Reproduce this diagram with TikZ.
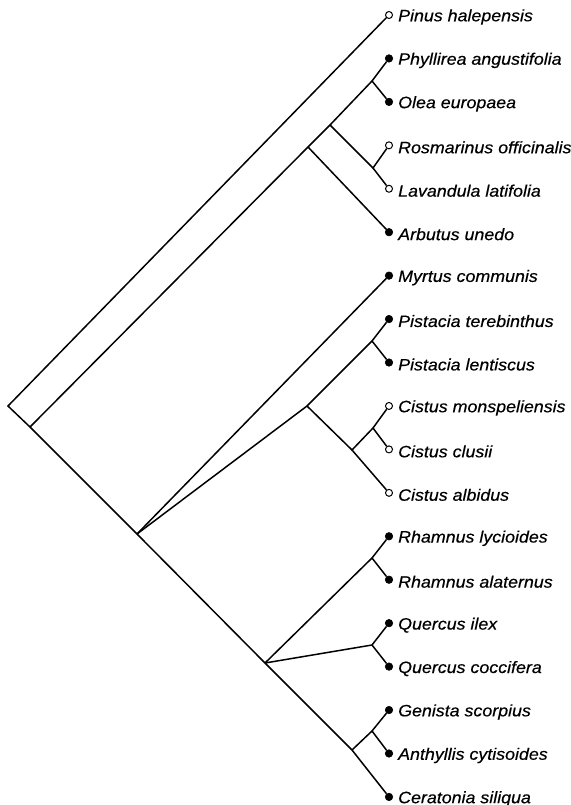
\documentclass[tikz,border=0pt]{standalone}
\usepackage{fontspec}
\setmainfont{Liberation Sans}[FakeStretch=1.08,FakeBold=0.4]
\begin{document}
\begin{tikzpicture}[x=1pt,y=-1pt,
  edge/.style={line width=1.5pt},
  full/.style={circle,fill=black,draw=black,line width=0.6pt,minimum size=7.5pt,inner sep=0pt},
  open/.style={circle,fill=white,draw=black,line width=1pt,minimum size=7pt,inner sep=0pt},
  lab/.style={anchor=west,inner sep=0pt,font=\fontsize{16.5}{18}\selectfont\itshape}]
\useasboundingbox (0,0) rectangle (570,805);
% leaves
\foreach \n/\i/\s/\t in {
  pin/0/open/Pinus halepensis,
  phy/1/full/Phyllirea angustifolia,
  ole/2/full/Olea europaea,
  ros/3/open/Rosmarinus officinalis,
  lav/4/open/Lavandula latifolia,
  arb/5/full/Arbutus unedo,
  myr/6/full/Myrtus communis,
  pte/7/full/Pistacia terebinthus,
  ple/8/full/Pistacia lentiscus,
  cmo/9/open/Cistus monspeliensis,
  ccl/10/open/Cistus clusii,
  cal/11/open/Cistus albidus,
  rly/12/full/Rhamnus lycioides,
  ral/13/full/Rhamnus alaternus,
  qil/14/full/Quercus ilex,
  qco/15/full/Quercus coccifera,
  gen/16/full/Genista scorpius,
  ant/17/full/Anthyllis cytisoides,
  cer/18/full/Ceratonia siliqua}{
  \node[\s] (\n) at (389,{15+43.44*\i}) {};
  \node[lab] (\n-t) at (398,{17+43.44*\i}) {\t};
}
% internal nodes
\coordinate (R) at (8,406);
\coordinate (A) at (30,427);
\coordinate (B) at (308,147);
\coordinate (C) at (330,125);
\coordinate (D) at (372,81);
\coordinate (E) at (373,168);
\coordinate (F) at (137,534);
\coordinate (J) at (307,406);
\coordinate (K) at (372,341);
\coordinate (L) at (352,450);
\coordinate (M) at (373,428);
\coordinate (H) at (265,663);
\coordinate (N) at (372,558);
\coordinate (Q) at (372,645);
\coordinate (I) at (352,750);
\coordinate (G) at (372,731);
% edges
\draw[edge] (pin) -- (R) -- (A) -- (F) -- (H) -- (I) -- (cer);
\draw[edge] (A) -- (B) -- (C) -- (D) -- (phy);
\draw[edge] (D) -- (ole);
\draw[edge] (C) -- (E) -- (ros);
\draw[edge] (E) -- (lav);
\draw[edge] (B) -- (arb);
\draw[edge] (F) -- (myr);
\draw[edge] (F) -- (J) -- (K) -- (pte);
\draw[edge] (K) -- (ple);
\draw[edge] (J) -- (L) -- (M) -- (cmo);
\draw[edge] (M) -- (ccl);
\draw[edge] (L) -- (cal);
\draw[edge] (H) -- (N) -- (rly);
\draw[edge] (N) -- (ral);
\draw[edge] (H) -- (Q) -- (qil);
\draw[edge] (Q) -- (qco);
\draw[edge] (I) -- (G) -- (gen);
\draw[edge] (G) -- (ant);
\end{tikzpicture}
\end{document}
